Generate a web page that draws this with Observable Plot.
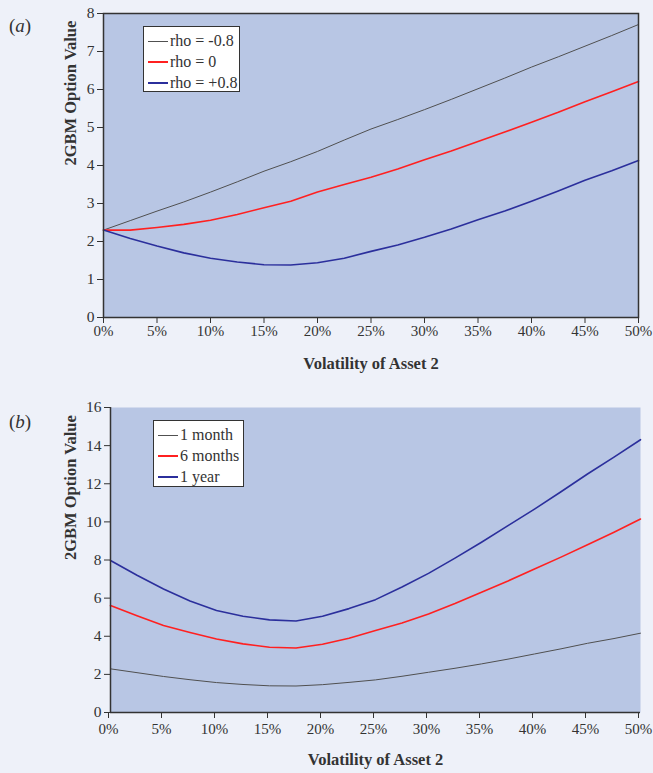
<!DOCTYPE html>
<html>
<head>
<meta charset="utf-8">
<script src="https://cdn.jsdelivr.net/npm/d3@7"></script>
<script src="https://cdn.jsdelivr.net/npm/@observablehq/plot@0.6"></script>
<style>
  html, body { margin: 0; padding: 0; background: #ffffff; }
  #wrap { position: relative; width: 653px; height: 773px; background: #eef1f9; font-family: "Liberation Serif", "DejaVu Serif", serif; color: #333; overflow: hidden; }
  #wrap svg { display: block; }
  .panel-label { position: absolute; left: 9px; font-size: 19px; line-height: 20px; }
  .legend { position: absolute; background: #fff; border: 1px solid #333; box-sizing: border-box; font-size: 16px; }
  .legend .row { position: absolute; left: 4px; height: 20px; display: flex; align-items: center; white-space: nowrap; }
  .legend .sw { display: inline-block; width: 20px; margin-right: 2px; }
</style>
</head>
<body>
<div id="wrap"></div>
<script>
// Shared x values (volatility of asset 2, as a fraction)
const vol = [0, 0.025, 0.05, 0.075, 0.10, 0.125, 0.15, 0.175, 0.20, 0.225, 0.25, 0.275, 0.30, 0.325, 0.35, 0.375, 0.40, 0.425, 0.45, 0.475, 0.50];

// Panel (a): correlation series
const rhoNames = ["rho = -0.8", "rho = 0", "rho = +0.8"];
const rhoNeg08 = [2.30, 2.55, 2.80, 3.04, 3.30, 3.57, 3.85, 4.10, 4.37, 4.67, 4.96, 5.21, 5.47, 5.74, 6.02, 6.30, 6.59, 6.86, 7.14, 7.42, 7.71];
const rho0     = [2.30, 2.30, 2.37, 2.45, 2.56, 2.71, 2.89, 3.06, 3.30, 3.50, 3.69, 3.91, 4.15, 4.38, 4.63, 4.88, 5.14, 5.40, 5.68, 5.94, 6.21];
const rhoPos08 = [2.30, 2.08, 1.88, 1.70, 1.56, 1.46, 1.39, 1.38, 1.44, 1.56, 1.74, 1.91, 2.11, 2.33, 2.57, 2.80, 3.06, 3.33, 3.61, 3.86, 4.13];

// Panel (b): maturity series
const maturityNames = ["1 month", "6 months", "1 year"];
const month1  = [2.29, 2.09, 1.89, 1.72, 1.57, 1.47, 1.40, 1.39, 1.46, 1.58, 1.71, 1.90, 2.11, 2.32, 2.55, 2.80, 3.07, 3.34, 3.63, 3.88, 4.16];
const months6 = [5.61, 5.07, 4.56, 4.20, 3.86, 3.60, 3.42, 3.38, 3.58, 3.90, 4.30, 4.70, 5.17, 5.72, 6.31, 6.90, 7.53, 8.15, 8.80, 9.46, 10.15];
const year1   = [7.97, 7.20, 6.48, 5.85, 5.35, 5.05, 4.86, 4.80, 5.05, 5.45, 5.92, 6.58, 7.30, 8.10, 8.93, 9.80, 10.67, 11.58, 12.51, 13.40, 14.31];

// Tick labels
const xTicks = [0, 0.05, 0.10, 0.15, 0.20, 0.25, 0.30, 0.35, 0.40, 0.45, 0.50];
const yTicksA = [0, 1, 2, 3, 4, 5, 6, 7, 8];
const yTicksB = [0, 2, 4, 6, 8, 10, 12, 14, 16];

const xTitle = "Volatility of Asset 2";
const yTitle = "2GBM Option Value";

const colors = ["#505050", "#ff2020", "#2b2f9c"];
const widths = [1, 1.6, 1.6];
const FONT = "'Liberation Serif', 'DejaVu Serif', serif";

function tidy(names, series) {
  const rows = [];
  names.forEach((n, i) => vol.forEach((v, j) => rows.push({series: n, x: v, y: series[i][j]})));
  return rows;
}

const dataA = tidy(rhoNames, [rhoNeg08, rho0, rhoPos08]);
const dataB = tidy(maturityNames, [month1, months6, year1]);

function makePanel({data, names, yTicks, yMax, height, marginTop, marginBottom, marginLeft, marginRight, fullFrame, xTitleDy, yTitleDx, xTickDx, xTickPad}) {
  const marks = [Plot.frame({fill: "#b8c6e4", stroke: null})];
  names.forEach((n, i) => {
    marks.push(Plot.line(data.filter(d => d.series === n), {x: "x", y: "y", stroke: colors[i], strokeWidth: widths[i]}));
  });
  if (fullFrame) marks.push(Plot.frame({stroke: "#333", strokeWidth: 1.5}));
  else {
    marks.push(Plot.ruleX([0], {stroke: "#333", strokeWidth: 1.5}));
    marks.push(Plot.ruleY([0], {stroke: "#333", strokeWidth: 1.5}));
  }
  marks.push(Plot.axisX({ticks: xTicks, tickFormat: d => Math.round(d * 100) + "%", tickSize: 6, tickPadding: xTickPad,
    stroke: "#333", fill: "#333", fontSize: 15, label: null, dx: xTickDx}));
  marks.push(Plot.axisY({ticks: yTicks, tickSize: 6, tickPadding: 3,
    stroke: "#333", fill: "#333", fontSize: 15.5, label: null}));
  marks.push(Plot.text([xTitle], {text: d => d, frameAnchor: "bottom", dy: xTitleDy, fontSize: 16.5, fontWeight: "bold", fill: "#333"}));
  marks.push(Plot.text([yTitle], {text: d => d, frameAnchor: "left", dx: yTitleDx, rotate: -90, fontSize: 16.5, fontWeight: "bold", fill: "#333"}));
  return Plot.plot({
    width: 653, height, marginTop, marginBottom, marginLeft, marginRight,
    style: {fontFamily: FONT, fontSize: "15px", color: "#333", background: "transparent", overflow: "visible"},
    x: {domain: [0, 0.5]},
    y: {domain: [0, yMax]},
    marks
  });
}

function legend(names, left, top, width, height, rowTops) {
  const el = document.createElement("div");
  el.className = "legend";
  Object.assign(el.style, {left: left + "px", top: top + "px", width: width + "px", height: height + "px"});
  names.forEach((n, i) => {
    const r = document.createElement("div");
    r.className = "row";
    r.style.top = rowTops[i] + "px";
    const sw = document.createElement("span");
    sw.className = "sw";
    sw.style.borderTop = widths[i] + 0.4 + "px solid " + colors[i];
    r.appendChild(sw);
    r.appendChild(document.createTextNode(n));
    el.appendChild(r);
  });
  return el;
}

const wrap = document.getElementById("wrap");
wrap.appendChild(makePanel({data: dataA, names: rhoNames, yTicks: yTicksA, yMax: 8, height: 385,
  marginTop: 13, marginBottom: 68, marginLeft: 103, marginRight: 15, fullFrame: true, xTitleDy: 51, yTitleDx: -33, xTickDx: 0, xTickPad: 2}));
wrap.appendChild(makePanel({data: dataB, names: maturityNames, yTicks: yTicksB, yMax: 16, height: 388,
  marginTop: 22, marginBottom: 61, marginLeft: 110, marginRight: 13, fullFrame: false, xTitleDy: 52, yTitleDx: -40, xTickDx: -2, xTickPad: 5}));

const la = document.createElement("div");
la.className = "panel-label"; la.style.top = "16px"; la.innerHTML = "(<i>a</i>)";
wrap.appendChild(la);
const lb = document.createElement("div");
lb.className = "panel-label"; lb.style.top = "412px"; lb.innerHTML = "(<i>b</i>)";
wrap.appendChild(lb);

wrap.appendChild(legend(rhoNames, 143, 26, 97, 66, [4, 25, 46]));
wrap.appendChild(legend(maturityNames, 153, 420, 91, 67, [4, 25, 46]));
</script>
</body>
</html>
